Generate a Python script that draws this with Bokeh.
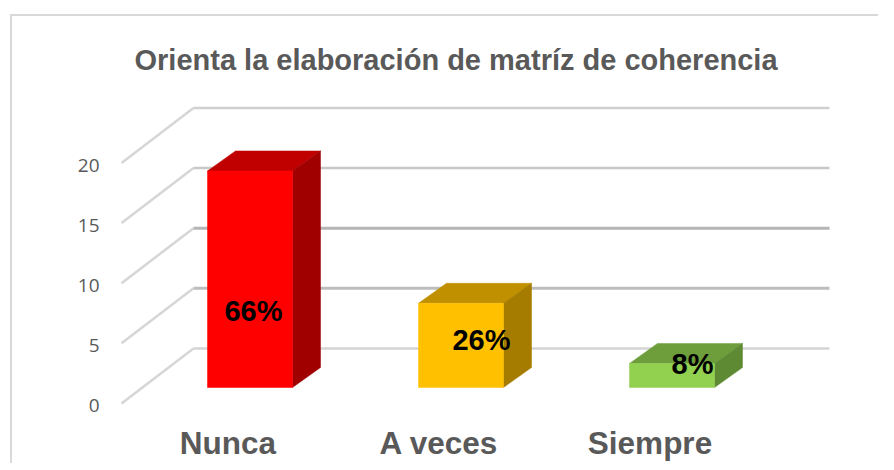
from bokeh.plotting import figure
from bokeh.models import LinearAxis, FixedTicker, ColumnDataSource
from bokeh.core.properties import value
from bokeh.embed import file_html
from bokeh.resources import INLINE

title = "Orienta la elaboración de matríz de coherencia"
categories = ["Nunca", "A veces", "Siempre"]
counts = [18, 7, 2]
percent_labels = ["66%", "26%", "8%"]
y_ticks = [0, 5, 10, 15, 20]

front_colors = ["#ff0000", "#ffc000", "#92d050"]
top_colors = ["#c00000", "#c09000", "#6e9e3c"]
side_colors = ["#a00000", "#a67c00", "#5f8a34"]

MARGIN_LEFT, MARGIN_TOP = 10, 9
FRAME_LEFT, FRAME_TOP, FRAME_BOTTOM = 100, 90, 420   # picture pixels
FW, FH = 878 - FRAME_LEFT, FRAME_BOTTOM - FRAME_TOP
PX_X = 211.0          # pixels per category
PX_Y = 12.03          # pixels per count
ux = 1 / PX_X
uy = 1 / PX_Y

x0_px = 207 - FRAME_LEFT           # left edge of first bar front, from frame left
y_bottom_px = FRAME_BOTTOM - 403   # front floor above frame bottom

p = figure(frame_width=FW, frame_height=FH,
           x_range=(-x0_px * ux, (FW - x0_px) * ux),
           y_range=(-y_bottom_px * uy, (FH - y_bottom_px) * uy),
           output_backend="svg", toolbar_location=None, x_axis_type=None, y_axis_type=None,
           min_border_left=FRAME_LEFT - MARGIN_LEFT,
           min_border_right=0,
           min_border_top=FRAME_TOP - MARGIN_TOP,
           min_border_bottom=34,
           background_fill_color="white", border_fill_color=None)
p.outline_line_color = None
p.grid.visible = False
p.margin = (MARGIN_TOP, 0, 0, MARGIN_LEFT)
# chart-area border, drawn behind the transparent canvas
p.styles = {"background": "linear-gradient(#d9d9d9,#d9d9d9) 0 5px / 100% 2px no-repeat, "
                          "linear-gradient(#d9d9d9,#d9d9d9) 0 5px / 2px 100% no-repeat"}

p.title.text = title
p.title.text_font = "Liberation Sans"
p.title.text_font_size = "29px"
p.title.text_font_style = "bold"
p.title.text_color = "#595959"
p.title.align = "left"
p.title.offset = 34
p.title.standoff = 30

# axes
label_drop = 0.2
y_axis = LinearAxis(ticker=FixedTicker(ticks=[t - label_drop for t in y_ticks]))
y_axis.major_label_overrides = {t - label_drop: str(t) for t in y_ticks}
y_axis.axis_line_color = None
y_axis.major_tick_line_color = None
y_axis.minor_tick_line_color = None
y_axis.major_tick_out = 0
y_axis.major_tick_in = 0
y_axis.major_label_text_font = "Open Sans"
y_axis.major_label_text_font_size = "19px"
y_axis.major_label_text_color = "#595959"
y_axis.major_label_standoff = 1
p.add_layout(y_axis, "left")

x_shift = (227.5 - 249.5) * ux
x_ticks = [i + (42.5 * ux) + x_shift for i in range(3)]
x_axis = LinearAxis(ticker=FixedTicker(ticks=x_ticks))
x_axis.major_label_overrides = {t: c for t, c in zip(x_ticks, categories)}
x_axis.axis_line_color = None
x_axis.major_tick_line_color = None
x_axis.minor_tick_line_color = None
x_axis.major_tick_out = 0
x_axis.major_tick_in = 0
x_axis.major_label_text_font = "Liberation Sans"
x_axis.major_label_text_font_size = "31.5px"
x_axis.major_label_text_font_style = "bold"
x_axis.major_label_text_color = "#595959"
x_axis.major_label_standoff = 4
p.add_layout(x_axis, "below")

# walls / gridlines
wall_dx = 72 * ux
wall_dy = 55 * uy
wall_left = (121 - 207) * ux
wall_right = (829 - 207) * ux
grid_colors = ["#d4d4d4", "#bdbdbd", "#b5b5b5", "#c8c8c8", "#d0d0d0"]
grid_widths = [2.5, 3, 3, 2.5, 2.5]
for t, c, w in zip(y_ticks, grid_colors, grid_widths):
    p.line([wall_left, wall_left + wall_dx], [t, t + wall_dy], line_color="#d6d6d6", line_width=2.5)
    p.line([wall_left + wall_dx, wall_right], [t + wall_dy, t + wall_dy], line_color=c, line_width=w)

# 3-D bars
bar_w = 85 * ux
dep_x = 28 * ux
dep_y = 20 * uy
base = 16 * uy
for i, v in enumerate(counts):
    xl, xr = i, i + bar_w
    yb, yt = base, base + v
    p.patch([xl, xr, xr + dep_x, xl + dep_x], [yt, yt, yt + dep_y, yt + dep_y],
            fill_color=top_colors[i], line_color=top_colors[i], line_width=0.5)
    p.patch([xr, xr + dep_x, xr + dep_x, xr], [yb, yb + dep_y, yt + dep_y, yt],
            fill_color=side_colors[i], line_color=side_colors[i], line_width=0.5)
    p.patch([xl, xr, xr, xl], [yb, yb, yt, yt],
            fill_color=front_colors[i], line_color=front_colors[i], line_width=0.5)

# data labels
label_dx = [0, 17 * ux, 17 * ux]
label_src = ColumnDataSource(dict(
    x=[i + 46 * ux + label_dx[i] for i in range(3)],
    y=[base + c * f for c, f in zip(counts, [0.355, 0.565, 0.96])],
    t=percent_labels))
p.text(x="x", y="y", text="t", source=label_src, text_align="center", text_baseline="middle",
       text_font=value("Liberation Sans"), text_font_style="bold", text_font_size="29px",
       text_color="black")

open("out.html", "w").write(file_html(p, INLINE))
